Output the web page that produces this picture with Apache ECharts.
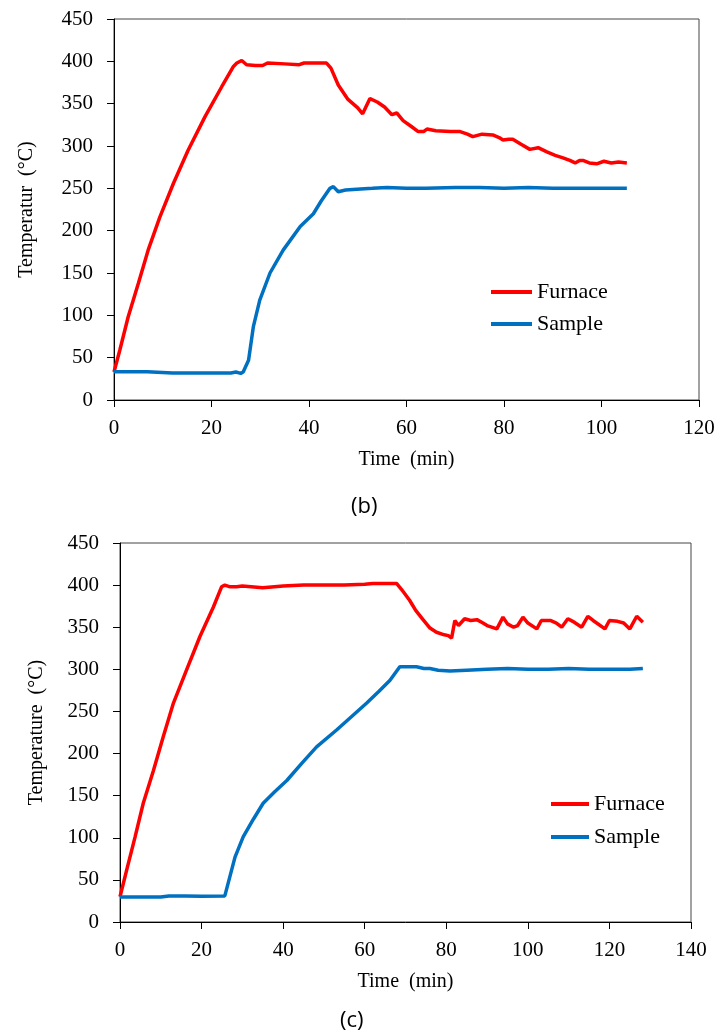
<!DOCTYPE html>
<html>
<head>
<meta charset="utf-8">
<script src="https://cdn.jsdelivr.net/npm/echarts@6/dist/echarts.min.js"></script>
<style>
  html, body { margin: 0; padding: 0; background: #fff; }
  #chart { width: 718px; height: 1036px; }
</style>
</head>
<body>
<div id="chart"></div>
<script>
// (b) time in min, temperature in degC
var furnaceB = [[0,33],[0.2,35],[1.2,59],[2.9,98],[5,138],[7,177],[9.4,216],[12.2,256],[15.2,295],[18.7,335],[22.1,370],[24.5,394],[25.2,398],[26.2,401],[27.2,396],[29,395],[30.5,395],[31.5,398],[35,397],[38,396],[39,398],[42,398],[43.6,398],[44.5,392],[46,372],[48,355],[50,345],[51,338],[52.5,356],[54,352],[55.5,346],[57,337],[58,339],[59.3,330],[61,323],[62.4,317],[63.5,317],[64.2,320],[66,318],[69,317],[71,317],[72.5,314],[73.6,311],[75.5,314],[77.7,313],[79,310],[79.8,307],[81,308],[81.8,308],[83.5,302],[85.3,296],[87,298],[88.8,293],[90.5,289],[92.1,286],[93.5,283],[94.6,280],[95.5,283],[96.2,283],[97.5,280],[99,279],[100.5,282],[102,280],[103.5,281],[105.2,280]];
var sampleB = [[0,33.5],[6.8,33.5],[7.2,32],[12,32],[20,32],[24,32],[25,33],[26,31.5],[26.5,33],[27.6,47],[28.6,87],[29.9,118],[32,150],[34.7,177],[38.2,205],[40.9,220],[42.5,235],[44.3,250],[45,252],[46,246],[47.5,248],[49.8,249],[53,250],[56,251],[60,250],[64,250],[70,251],[75,251],[80,250],[85,251],[90,250],[95,250],[100,250],[105.2,250]];

// (c)
var furnaceC = [[0,30],[0.4,32],[1.6,61],[3.7,101],[5.7,141],[8.2,180],[10.6,220],[13.1,260],[16.3,299],[19.6,339],[22.9,374],[24.9,398],[25.7,400],[27,398],[28.6,398],[30,399],[35,397],[40,399],[45,400],[50,400],[55,400],[60,401],[62,402],[65,402],[67.8,402],[69,395],[71,382],[72.5,370],[74.3,359],[76,349],[77.6,344],[79.5,341],[80.5,340],[81.3,337],[82.1,358],[83,352],[84.5,360],[86,358],[87.5,359],[89,355],[90,352],[92.4,348],[93.9,362],[95,354],[96.5,350],[97.5,352],[98.8,362],[100,355],[102.2,348],[103.3,358],[105.5,358],[107,355],[108.3,350],[109.8,360],[111,357],[113.2,350],[114.7,363],[116,358],[118.9,348],[120,358],[122,357],[123.5,355],[125,348],[126.7,363],[128.2,356]];
var sampleC = [[0,29.7],[10,29.7],[12,31],[16,31],[20,30.5],[25.7,31],[26.1,32],[28.2,77],[30.2,101],[32.7,122],[35.1,141],[38,155],[40.9,168],[44.5,188],[48.2,208],[53.1,228],[56.8,244],[60.5,260],[63.5,274],[66.2,287],[68.6,303],[72.7,303],[74.5,301],[76,301],[78,299],[80.9,298],[85,299],[90,300],[95,301],[100,300],[105,300],[110,301],[115,300],[120,300],[125,300],[128.2,301]];

var seriesNames = ['Furnace', 'Sample'];
var colors = ['#ff0000', '#0070c0'];

var serif = 'Liberation Serif';

function xAxisOf (idx, max) {
  return {
    type: 'value', gridIndex: idx, min: 0, max: max, interval: 20,
    name: 'Time  (min)', nameLocation: 'middle', nameGap: 50,
    nameTextStyle: { fontFamily: serif, fontSize: 20, color: '#000' },
    axisLine: { lineStyle: { color: '#000', width: 1 } },
    axisTick: { inside: false, length: 7, lineStyle: { color: '#000' } },
    axisLabel: { fontFamily: serif, fontSize: 21, color: '#000', margin: 18 },
    splitLine: { show: false }
  }
}

function yAxisOf (idx, title, gap) {
  return {
    type: 'value', gridIndex: idx, min: 0, max: 450, interval: 50,
    name: title, nameLocation: 'middle', nameGap: gap,
    nameTextStyle: { fontFamily: serif, fontSize: 20, color: '#000' },
    axisLine: { show: true, lineStyle: { color: '#000', width: 1 } },
    axisTick: { show: true, inside: false, length: 7, lineStyle: { color: '#000' } },
    axisLabel: { fontFamily: serif, fontSize: 21, color: '#000', margin: 21 },
    splitLine: { show: false }
  }
}

function lineOf (name, data, color, idx) {
  return {
    name: name, type: 'line', data: data, xAxisIndex: idx, yAxisIndex: idx,
    showSymbol: false, symbol: 'none', smooth: false,
    lineStyle: { color: color, width: 3.5 },
    itemStyle: { color: color },
    animation: false
  }
}

var chart = echarts.init(document.getElementById('chart'))
var options = {
  backgroundColor: '#fff',
  animation: false,
  grid: [
    { left: 114, top: 19, right: 19, bottom: 636, show: true, borderColor: '#444', borderWidth: 1 },
    { left: 120, top: 543, right: 27, bottom: 114, show: true, borderColor: '#444', borderWidth: 1 }
  ],
  xAxis: [xAxisOf(0, 120), xAxisOf(1, 140)],
  yAxis: [yAxisOf(0, 'Temperatur  (°C)', 77), yAxisOf(1, 'Temperature  (°C)', 73)],
  legend: [
    {
      data: seriesNames, orient: 'vertical', left: 486, top: 276, itemGap: 10,
      icon: 'rect', itemWidth: 41, itemHeight: 4,
      textStyle: { fontFamily: serif, fontSize: 22, color: '#000' }
    },
    {
      data: seriesNames, orient: 'vertical', left: 546, top: 788, itemGap: 11,
      icon: 'rect', itemWidth: 38, itemHeight: 4,
      textStyle: { fontFamily: serif, fontSize: 22, color: '#000' }
    }
  ],
  graphic: [
    { type: 'text', left: 351, top: 496, style: { text: '(b)', fontFamily: 'Open Sans', fontSize: 22, fill: '#000' } },
    { type: 'text', left: 340, top: 1010, style: { text: '(c)', fontFamily: 'Open Sans', fontSize: 22, fill: '#000' } }
  ],
  series: [
    lineOf('Furnace', furnaceB, colors[0], 0),
    lineOf('Sample', sampleB, colors[1], 0),
    lineOf('Furnace', furnaceC, colors[0], 1),
    lineOf('Sample', sampleC, colors[1], 1)
  ]
}
chart.setOption(options)
</script>
</body>
</html>
